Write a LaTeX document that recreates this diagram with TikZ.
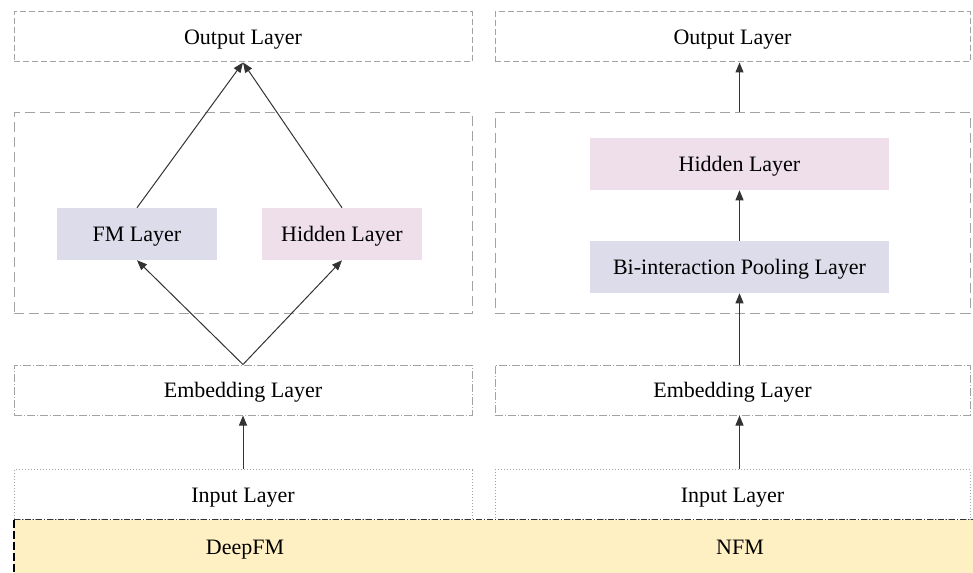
\documentclass[tikz,border=0pt]{standalone}
\usepackage{fontspec}
\setmainfont{Liberation Serif}
\usepackage{xcolor}
\usepackage{tikz}
\usetikzlibrary{arrows.meta, positioning, calc}
\definecolor{laydraw}{HTML}{A3A3A3}
\definecolor{fmfill}{HTML}{DCDCEB}
\definecolor{hidfill}{HTML}{EEDFEB}
\definecolor{barfill}{HTML}{FFF0C4}
\definecolor{bardraw}{HTML}{333333}
\tikzset{
  txt/.style={font=\fontsize{16.5}{20}\selectfont, text height=15pt, text depth=3.6pt},
  lay/.style={rectangle, txt, draw=laydraw, line width=0.75pt, align=center, inner sep=2pt, minimum height=37.5pt},
  outl/.style={lay, dash pattern=on 4.5pt off 2.25pt},
  grp/.style={lay, dash pattern=on 7.5pt off 3.75pt, minimum height=150pt},
  embl/.style={lay, dash pattern=on 6pt off 1.5pt on 0.75pt off 1.5pt},
  inl/.style={lay, dash pattern=on 0.75pt off 1.5pt},
  colL/.style={minimum width=343.5pt},
  colR/.style={minimum width=356.25pt},
  fmbox/.style={rectangle, txt, fill=fmfill, minimum height=39pt},
  hidbox/.style={rectangle, txt, fill=hidfill, minimum height=39pt},
  barbox/.style={rectangle, fill=barfill, inner sep=0pt, minimum width=719.25pt, minimum height=39.75pt},
  bartop/.style={draw=bardraw, line width=0.75pt, dash pattern=on 4.5pt off 1.5pt on 0.75pt off 1.5pt},
  barside/.style={draw=black, line width=1.5pt, dash pattern=on 6pt off 2.25pt},
  arr/.style={-{Triangle[length=7.5pt,width=6pt]}, line width=0.75pt, draw=black!80},
}

\begin{document}
\begin{tikzpicture}[x=0.75pt, y=-0.75pt]
  \useasboundingbox (0,0) rectangle (973,573);

  \node[outl, colL] (out1) at (243,37) {Output Layer};
  \node[grp, colL] (grp1) at (243,213) {};
  \node[fmbox, minimum width=120pt] (fm1) at (137,234) {FM Layer};
  \node[hidbox, minimum width=120pt] (hid1) at (342,234) {Hidden Layer};
  \node[embl, colL] (emb1) at (243,390) {Embedding Layer};
  \node[inl, colL] (in1) at (243,494.5) {Input Layer};

  \node[outl, colR] (out2) at (732.5,37) {Output Layer};
  \node[grp, colR] (grp2) at (732.5,213) {};
  \node[hidbox, minimum width=224.25pt] (hid2) at (739.5,164) {Hidden Layer};
  \node[fmbox, minimum width=224.25pt] (bi2) at (739.5,267) {Bi-interaction Pooling Layer};
  \node[embl, colR] (emb2) at (732.5,390) {Embedding Layer};
  \node[inl, colR] (in2) at (732.5,494.5) {Input Layer};

  \node[barbox] (bar) at (493.5,546.5) {};
  \draw[bartop] (bar.north west) -- (bar.north east);
  \draw[barside] (bar.north west) -- (bar.south west);
  \node[txt] (deepfm) at (245,547) {DeepFM};
  \node[txt] (nfm) at (740,547) {NFM};

  \draw[arr] (in1.north) -- (emb1.south);
  \draw[arr] (emb1.north) -- (fm1.south);
  \draw[arr] (emb1.north) -- (hid1.south);
  \draw[arr] (fm1.north) -- (out1.south);
  \draw[arr] (hid1.north) -- (out1.south);

  \draw[arr] (bi2.south |- in2.north) -- (bi2.south |- emb2.south);
  \draw[arr] (bi2.south |- emb2.north) -- (bi2.south);
  \draw[arr] (bi2.north) -- (hid2.south);
  \draw[arr] (hid2.north |- grp2.north) -- (hid2.north |- out2.south);
\end{tikzpicture}
\end{document}
